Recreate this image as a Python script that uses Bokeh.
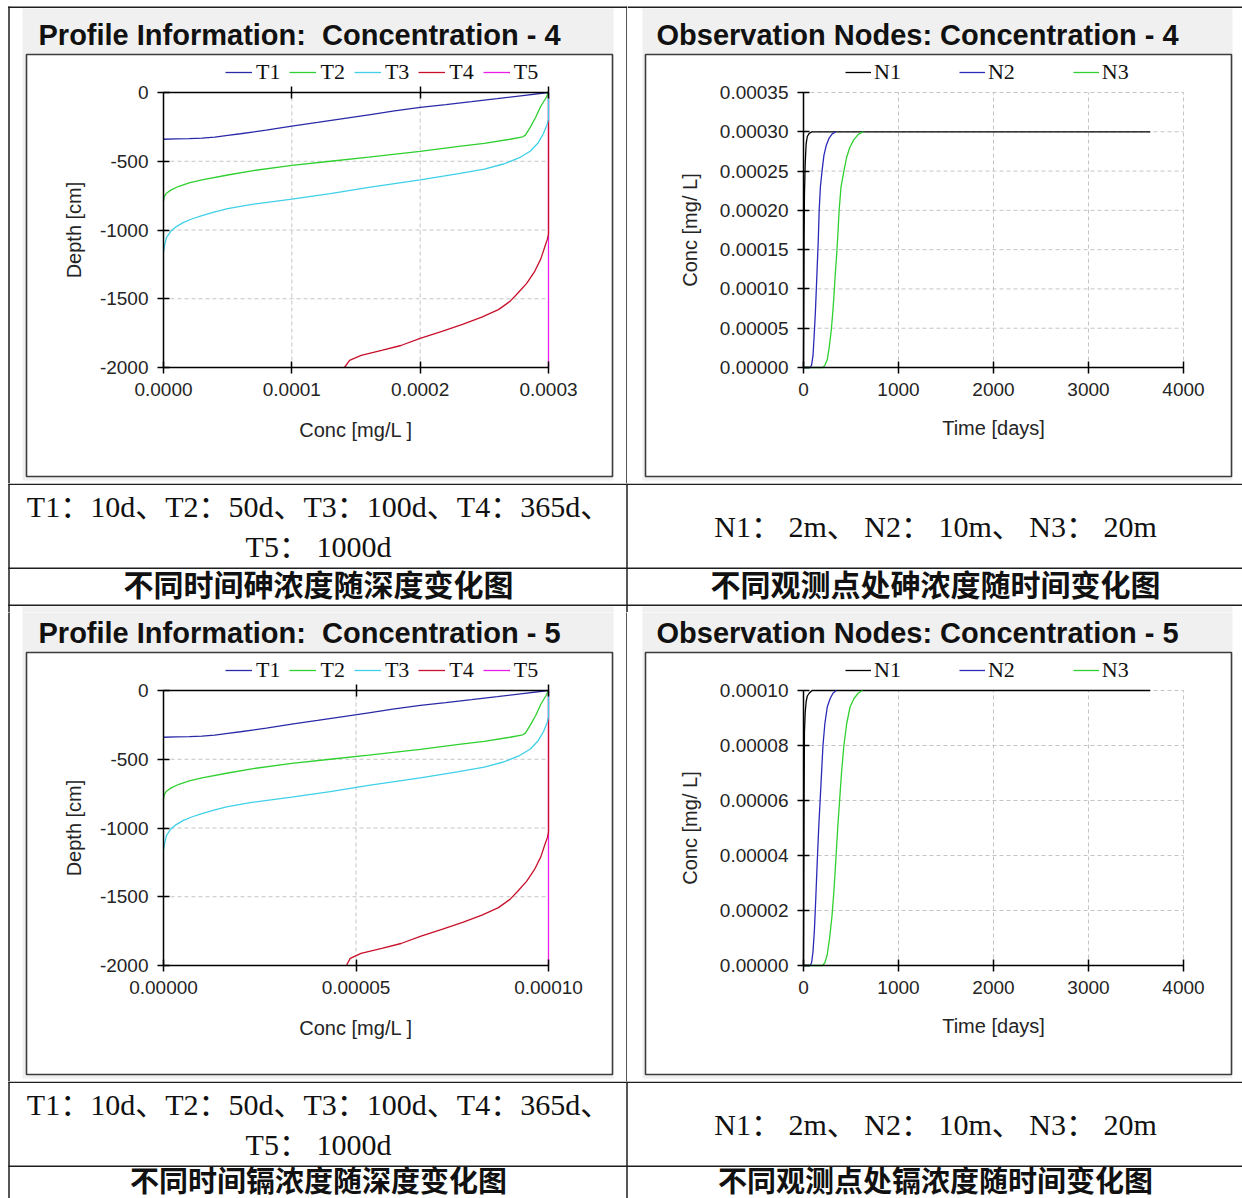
from bokeh.plotting import figure
from bokeh.models import (Range1d, LinearAxis, FixedTicker, PrintfTickFormatter,
                          CustomJSTickFormatter, Legend, LegendItem)
from bokeh.layouts import column, row
from bokeh.core.properties import value
from bokeh.embed import file_html
from bokeh.resources import INLINE

# ---------------------------------------------------------------- data
PROF_NAMES = ["T1", "T2", "T3", "T4", "T5"]
OBS_NAMES = ["N1", "N2", "N3"]

# arsenic profile (Concentration - 4): conc [mg/L], depth [cm]
AS_T1_CONC = [0, 0.00001, 0.00002, 0.00003, 0.00004, 0.00005, 0.00006, 0.00008, 0.0001, 0.00012,
              0.00014, 0.00016, 0.00018, 0.0002, 0.00022, 0.00024, 0.00026, 0.00028, 0.0003]
AS_T1_DEPTH = [-340, -338, -336, -332, -324, -312, -300, -274, -245, -218,
               -190, -162, -134, -108, -88, -67, -45, -22, 0]
AS_T2_CONC = [0, 0.0000005, 0.000002, 0.000006, 0.000012, 0.00002, 0.00003, 0.00005, 0.00007, 0.0001,
              0.00013, 0.00016, 0.0002, 0.00023, 0.00025, 0.00027, 0.00028, 0.000282, 0.000286,
              0.00029, 0.000294, 0.000298, 0.0003]
AS_T2_DEPTH = [-790, -760, -735, -708, -682, -658, -635, -600, -568, -530,
               -500, -470, -428, -392, -370, -340, -322, -310, -250,
               -180, -100, -40, 0]
AS_T3_CONC = [0, 0.0000008, 0.0000023, 0.0000055, 0.00001, 0.0000156, 0.000022, 0.00003, 0.00004,
              0.00005, 0.00007, 0.0001, 0.00013, 0.00016, 0.0002, 0.00023, 0.00025, 0.000265,
              0.000277, 0.000286, 0.000292, 0.000296, 0.000299, 0.0003, 0.0003]
AS_T3_DEPTH = [-1160, -1113, -1055, -1011, -975, -945, -920, -895, -868,
               -845, -812, -775, -735, -690, -635, -590, -558, -520,
               -476, -425, -365, -300, -230, -190, 0]
AS_T4_CONC = [0.000141, 0.000145, 0.000154, 0.00017, 0.000185, 0.0002, 0.000217, 0.000233, 0.000248,
              0.000261, 0.00027, 0.000276, 0.000283, 0.000289, 0.000294, 0.000297, 0.000299,
              0.0003, 0.0003]
AS_T4_DEPTH = [-2000, -1948, -1912, -1876, -1840, -1788, -1738, -1686, -1633,
               -1579, -1519, -1460, -1388, -1305, -1210, -1126, -1070,
               -1030, 0]
AS_T5_CONC = [0.0003, 0.0003]
AS_T5_DEPTH = [-2000, 0]

# cadmium profile (Concentration - 5)
CD_T1_CONC = [0, 0.0000033, 0.0000067, 0.00001, 0.0000133, 0.0000167, 0.00002, 0.0000267, 0.0000333,
              0.00004, 0.0000467, 0.0000533, 0.00006, 0.0000667, 0.0000733, 0.00008, 0.0000867,
              0.0000933, 0.0001]
CD_T1_DEPTH = [-340, -338, -336, -332, -324, -312, -300, -274, -245,
               -218, -190, -162, -134, -108, -88, -67, -45, -22, 0]
CD_T2_CONC = [0, 0.00000017, 0.00000067, 0.000002, 0.000004, 0.0000067, 0.00001, 0.0000167,
              0.0000233, 0.0000333, 0.0000433, 0.0000533, 0.0000667, 0.0000767, 0.0000833,
              0.00009, 0.0000933, 0.000094, 0.0000953, 0.0000967, 0.000098, 0.0000993, 0.0001]
CD_T2_DEPTH = [-790, -760, -735, -708, -682, -658, -635, -600,
               -568, -530, -500, -470, -428, -392, -370,
               -340, -322, -310, -250, -180, -100, -40, 0]
CD_T3_CONC = [0, 0.00000027, 0.00000077, 0.0000018, 0.0000033, 0.0000052, 0.0000073, 0.00001,
              0.0000133, 0.0000167, 0.0000233, 0.0000333, 0.0000433, 0.0000533, 0.0000667,
              0.0000767, 0.0000833, 0.0000883, 0.0000923, 0.0000953, 0.0000973, 0.0000987,
              0.0000997, 0.0001, 0.0001]
CD_T3_DEPTH = [-1160, -1113, -1055, -1011, -975, -945, -920, -895,
               -868, -845, -812, -775, -735, -690, -635,
               -590, -558, -520, -476, -425, -365, -300,
               -230, -190, 0]
CD_T4_CONC = [0.0000475, 0.0000485, 0.0000513, 0.0000567, 0.0000617, 0.0000667, 0.0000723,
              0.0000777, 0.0000827, 0.000087, 0.00009, 0.000092, 0.0000943, 0.0000963,
              0.000098, 0.000099, 0.0000997, 0.0001, 0.0001]
CD_T4_DEPTH = [-2000, -1948, -1912, -1876, -1840, -1788, -1738,
               -1686, -1633, -1579, -1519, -1460, -1388, -1305,
               -1210, -1126, -1070, -1030, 0]
CD_T5_CONC = [0.0001, 0.0001]
CD_T5_DEPTH = [-2000, 0]

# arsenic observation nodes (Concentration - 4): time [days], conc [mg/L]
AS_N1_TIME = [0, 3, 6, 10, 18, 28, 40, 60, 90, 3650]
AS_N1_CONC = [0, 0.00008, 0.00016, 0.00022, 0.00026, 0.000285, 0.000294, 0.000298, 0.0003, 0.0003]
AS_N2_TIME = [0, 70, 85, 100, 112, 125, 135, 145, 155, 165, 178, 195, 215, 240, 270, 300, 340]
AS_N2_CONC = [0, 0, 0.000003, 0.000015, 0.00004, 0.00007, 0.0001, 0.00013, 0.00016, 0.0002,
              0.00023, 0.00025, 0.00027, 0.000283, 0.000292, 0.000297, 0.0003]
AS_N3_TIME = [0, 205, 225, 250, 270, 290, 305, 320, 335, 350, 362, 375, 395, 425, 455, 487, 530, 580, 630]
AS_N3_CONC = [0, 0, 0.000003, 0.00001, 0.000025, 0.000045, 0.000065, 0.00009, 0.00012, 0.000145,
              0.00017, 0.0002, 0.00023, 0.00025, 0.000268, 0.00028, 0.00029, 0.000297, 0.0003]

# cadmium observation nodes (Concentration - 5)
CD_N1_TIME = [0, 3, 6, 10, 18, 28, 40, 60, 90, 3650]
CD_N1_CONC = [0, 0.00003, 0.00006, 0.000085, 0.000092, 0.000096, 0.000098, 0.000099, 0.0001, 0.0001]
CD_N2_TIME = [0, 70, 85, 100, 115, 130, 145, 160, 175, 190, 205, 225, 250, 280, 310, 345]
CD_N2_CONC = [0, 0, 0.000001, 0.000005, 0.000013, 0.000025, 0.000038, 0.00005, 0.00006, 0.00007,
              0.00008, 0.000088, 0.000094, 0.000097, 0.000099, 0.0001]
CD_N3_TIME = [0, 200, 225, 250, 275, 300, 320, 340, 360, 380, 400, 425, 455, 490, 530, 575, 620]
CD_N3_CONC = [0, 0, 0.000001, 0.000004, 0.00001, 0.000018, 0.000027, 0.000038, 0.00005, 0.00006,
              0.00007, 0.00008, 0.000088, 0.000094, 0.000097, 0.000099, 0.0001]

# ticks
AS_PROF_XTICKS = [0, 0.0001, 0.0002, 0.0003]
CD_PROF_XTICKS = [0, 0.00005, 0.0001]
PROF_YTICKS = [0, -500, -1000, -1500, -2000]
OBS_XTICKS = [0, 1000, 2000, 3000, 4000]
AS_OBS_YTICKS = [0, 0.00005, 0.0001, 0.00015, 0.0002, 0.00025, 0.0003, 0.00035]
CD_OBS_YTICKS = [0, 0.00002, 0.00004, 0.00006, 0.00008, 0.0001]

# texts
TITLES = ["Profile Information:\u00a0 Concentration - 4", "Observation Nodes: Concentration - 4",
          "Profile Information:\u00a0 Concentration - 5", "Observation Nodes: Concentration - 5"]
CAP_LEFT = ["T1：10d、T2：50d、T3：100d、T4：365d、", "T5： 1000d"]
CAP_RIGHT = "N1： 2m、 N2： 10m、 N3： 20m"
FIG_TITLES_1 = ["不同时间砷浓度随深度变化图", "不同观测点处砷浓度随时间变化图"]
FIG_TITLES_2 = ["不同时间镉浓度随深度变化图", "不同观测点处镉浓度随时间变化图"]

# ---------------------------------------------------------------- style
PROF_COLORS = ["#2a2aa8", "#2fd02f", "#3fd0e8", "#c8102a", "#e81ee8"]
OBS_COLORS = ["#000000", "#2a2ab8", "#2fd02f"]
SANS = "Liberation Sans"
SERIF = "Liberation Serif"
CJK = "Noto Sans CJK SC"
CAP_FONT = SERIF + ", " + CJK
PANEL = "#f0f0f0"
BOX_LINE = "#3c3c3c"
RULE = "#1e1e1e"
TXT = "#242424"
TOTAL_W = 1242
LEFT_W = 627
RIGHT_W = TOTAL_W - LEFT_W
DIV_X = 626.5
BORDER_X = 8.5


def chart_cell(W, H, off, frame, xdom, ydom, xticks, yticks, xfmt, yfmt, xlabel, ylabel,
               title, title_x, gray_x, box_x, names, xs, ys, colors, reverse,
               legend_x, legend_spacing, legend_standoff, legend_glyph_w,
               top_axis, is_left, ylabel_standoff, xlabel_standoff):
    L, R, T, B = frame
    T = T + off
    B = B + off
    x0, x1 = xdom
    y0, y1 = ydom
    sx = (x1 - x0) / (R - L)
    sy = (y1 - y0) / (B - T)
    p = figure(width=W, height=H,
               x_range=Range1d(x0 - L * sx, x1 + (W - R) * sx),
               y_range=Range1d(y0 - (H - B) * sy, y1 + T * sy),
               x_axis_type=None, y_axis_type=None, toolbar_location=None,
               output_backend="svg", min_border=0, outline_line_color=None,
               background_fill_color="white", border_fill_color="white")

    def X(px):
        return x0 + (px - L) * sx

    def Y(py):
        return y1 - (py - T) * sy

    # grey panel and white chart box
    p.quad(left=[X(gray_x[0])], right=[X(gray_x[1])], top=[Y(off + 2)], bottom=[Y(off + 474)],
           fill_color=PANEL, line_color=None)
    p.quad(left=[X(box_x[0])], right=[X(box_x[1])], top=[Y(off + 48)], bottom=[Y(off + 470)],
           fill_color="white", line_color=BOX_LINE, line_width=1.6)

    # table rules
    if is_left:
        p.segment(x0=[X(BORDER_X - 0.75), X(BORDER_X), X(DIV_X)],
                  y0=[Y(off + 0.75), Y(off), Y(off)],
                  x1=[X(W), X(BORDER_X), X(DIV_X)],
                  y1=[Y(off + 0.75), Y(H), Y(H)], line_color=RULE, line_width=1.5)
    else:
        p.segment(x0=[X(0)], y0=[Y(off + 0.75)], x1=[X(W)], y1=[Y(off + 0.75)],
                  line_color=RULE, line_width=1.5)

    # panel title
    p.text(x=[X(title_x)], y=[Y(off + 28)], text=[title], text_font=value(SANS),
           text_font_style="bold", text_font_size="29px", text_baseline="middle",
           text_align="left", text_color="#111111")

    # dashed grid
    gx = [t for t in xticks if t != x0]
    gy = [t for t in yticks if t != y0]
    p.segment(x0=gx, y0=[y0] * len(gx), x1=gx, y1=[y1] * len(gx),
              line_color="#c4c4c4", line_width=1, line_dash="4 3")
    p.segment(x0=[x0] * len(gy), y0=gy, x1=[x1] * len(gy), y1=gy,
              line_color="#c4c4c4", line_width=1, line_dash="4 3")

    # series
    rends = {}
    order = list(range(len(names)))
    if reverse:
        order = order[::-1]
    for i in order:
        rends[i] = p.line(xs[i], ys[i], line_color=colors[i], line_width=1.3)

    legend = Legend(items=[LegendItem(label=names[i], renderers=[rends[i]]) for i in range(len(names))],
                    orientation="horizontal", location=(legend_x, H - (off + 79)),
                    glyph_width=legend_glyph_w, glyph_height=22, label_height=22,
                    label_standoff=legend_standoff, spacing=legend_spacing,
                    padding=0, margin=0, border_line_color=None, background_fill_alpha=0,
                    label_text_font=SERIF, label_text_font_size="22px", label_text_color="#111111")
    p.add_layout(legend)

    def style(ax):
        ax.axis_line_color = "black"
        ax.axis_line_width = 1.5
        ax.major_tick_line_color = "black"
        ax.major_tick_line_width = 1.5
        ax.major_tick_in = 6
        ax.major_tick_out = 6
        ax.minor_tick_in = 0
        ax.minor_tick_out = 0
        ax.major_label_text_font = SANS
        ax.major_label_text_font_size = "19px"
        ax.major_label_text_color = TXT
        ax.major_label_standoff = 9
        ax.axis_label_text_font = SANS
        ax.axis_label_text_font_size = "20px"
        ax.axis_label_text_font_style = "normal"
        ax.axis_label_text_color = TXT

    xa = LinearAxis(fixed_location=y0, bounds=(x0, x1), ticker=FixedTicker(ticks=xticks),
                    formatter=xfmt, axis_label=xlabel)
    style(xa)
    xa.axis_label_standoff = xlabel_standoff
    p.add_layout(xa, "below")
    ya = LinearAxis(fixed_location=x0, bounds=(y0, y1), ticker=FixedTicker(ticks=yticks),
                    formatter=yfmt, axis_label=ylabel)
    style(ya)
    ya.axis_label_standoff = ylabel_standoff
    p.add_layout(ya, "left")
    if top_axis:
        ta = LinearAxis(fixed_location=y1, bounds=(x0, x1), ticker=FixedTicker(ticks=xticks[1:]),
                        formatter=CustomJSTickFormatter(code="return ''"))
        style(ta)
        p.add_layout(ta, "above")
    return p


def prof_cell(H, off, xdom, xticks, xfmt, title, xs, ys):
    return chart_cell(LEFT_W, H, off, (163, 548, 86, 361), xdom, (-2000, 0), xticks, PROF_YTICKS,
                      xfmt, PrintfTickFormatter(format="%d"), "Conc [mg/L ]", "Depth [cm]",
                      title, 38, (22, 613), (26, 612), PROF_NAMES, xs, ys, PROF_COLORS, True,
                      225, 9, 4, 27, True, True, 12, 20)


def obs_cell(H, off, ydom, yticks, title, xs, ys):
    return chart_cell(RIGHT_W, H, off, (176, 556, 86, 361), (0, 4000), ydom, OBS_XTICKS, yticks,
                      PrintfTickFormatter(format="%d"), PrintfTickFormatter(format="%.5f"),
                      "Time [days]", "Conc [mg/ L]",
                      title, 29, (15, 605), (18, 604), OBS_NAMES, xs, ys, OBS_COLORS, False,
                      218, 58, 3, 26, False, False, 16, 18)


def band(H, rules, grays, texts):
    p = figure(width=TOTAL_W, height=H, x_range=Range1d(0, TOTAL_W), y_range=Range1d(H, 0),
               x_axis_type=None, y_axis_type=None, toolbar_location=None,
               output_backend="svg", min_border=0, outline_line_color=None,
               background_fill_color="white", border_fill_color="white")
    for (gx0, gx1, gy0, gy1) in grays:
        p.quad(left=[gx0], right=[gx1], top=[gy0], bottom=[gy1], fill_color=PANEL, line_color=None)
    n = len(rules)
    p.segment(x0=[BORDER_X - 0.75] * n + [BORDER_X, DIV_X],
              y0=[r + 0.75 for r in rules] + [0, 0],
              x1=[TOTAL_W] * n + [BORDER_X, DIV_X],
              y1=[r + 0.75 for r in rules] + [H, H],
              line_color=RULE, line_width=1.5)
    for (tx, ty, t, font, size, style) in texts:
        p.text(x=[tx], y=[ty], text=[t], text_font=value(font), text_font_size=size,
               text_font_style=style, text_align="center", text_baseline="middle",
               text_color="#111111")
    return p


cell_as_prof = prof_cell(483, 6, (0, 0.0003), AS_PROF_XTICKS, PrintfTickFormatter(format="%.4f"),
                         TITLES[0],
                         [AS_T1_CONC, AS_T2_CONC, AS_T3_CONC, AS_T4_CONC, AS_T5_CONC],
                         [AS_T1_DEPTH, AS_T2_DEPTH, AS_T3_DEPTH, AS_T4_DEPTH, AS_T5_DEPTH])
cell_as_obs = obs_cell(483, 6, (0, 0.00035), AS_OBS_YTICKS, TITLES[1],
                       [AS_N1_TIME, AS_N2_TIME, AS_N3_TIME], [AS_N1_CONC, AS_N2_CONC, AS_N3_CONC])

# captions + figure titles of row 1 (also carries the top of row-2 grey panels)
mid1 = band(129, [0, 84, 121], [(22, 613, 123, 129), (642, 1232, 123, 129)],
            [(318, 22.5, CAP_LEFT[0], CAP_FONT, "30px", "normal"),
             (318, 62.5, CAP_LEFT[1], CAP_FONT, "30px", "normal"),
             (935, 42.5, CAP_RIGHT, CAP_FONT, "30px", "normal"),
             (318, 99, FIG_TITLES_1[0], CJK, "30px", "bold"),
             (935, 99, FIG_TITLES_1[1], CJK, "30px", "bold")])

cell_cd_prof = prof_cell(469, -8, (0, 0.0001), CD_PROF_XTICKS, PrintfTickFormatter(format="%.5f"),
                         TITLES[2],
                         [CD_T1_CONC, CD_T2_CONC, CD_T3_CONC, CD_T4_CONC, CD_T5_CONC],
                         [CD_T1_DEPTH, CD_T2_DEPTH, CD_T3_DEPTH, CD_T4_DEPTH, CD_T5_DEPTH])
cell_cd_obs = obs_cell(469, -8, (0, 0.0001), CD_OBS_YTICKS, TITLES[3],
                       [CD_N1_TIME, CD_N2_TIME, CD_N3_TIME], [CD_N1_CONC, CD_N2_CONC, CD_N3_CONC])

bottom = band(117, [0, 84], [],
              [(318, 22.5, CAP_LEFT[0], CAP_FONT, "30px", "normal"),
               (318, 62.5, CAP_LEFT[1], CAP_FONT, "30px", "normal"),
               (935, 42.5, CAP_RIGHT, CAP_FONT, "30px", "normal"),
               (318, 97, FIG_TITLES_2[0], CJK, "29px", "bold"),
               (935, 97, FIG_TITLES_2[1], CJK, "29px", "bold")])

layout = column(row(cell_as_prof, cell_as_obs), mid1,
                row(cell_cd_prof, cell_cd_obs), bottom)

open("out.html", "w").write(file_html(layout, INLINE))
